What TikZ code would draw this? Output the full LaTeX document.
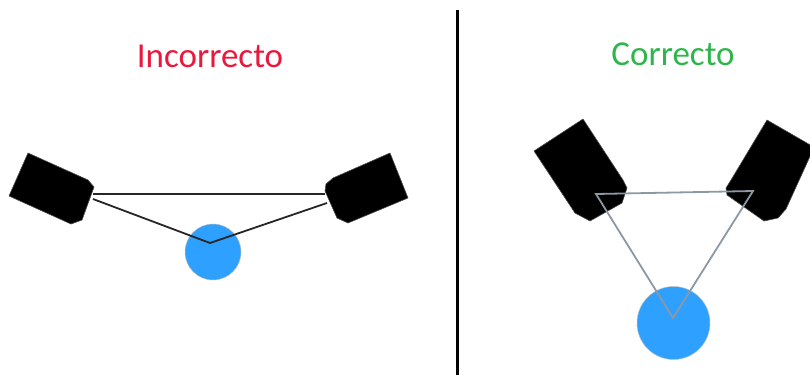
\documentclass[tikz,border=0pt]{standalone}
\usepackage{fontspec}
\setmainfont{Carlito}
\definecolor{wrongred}{RGB}{232,25,60}
\definecolor{rightgreen}{RGB}{46,181,75}
\definecolor{ballblue}{RGB}{46,160,255}
\definecolor{linegray}{RGB}{140,152,164}
\tikzset{
  cam/.style={fill=black, draw=black!70!white, line width=0.6pt, line join=round},
  ball/.style={circle, fill=ballblue, draw=black!25, line width=0.5pt, inner sep=0pt},
  ray/.style={draw=black!85, line width=1.8pt},
  grayray/.style={draw=linegray, line width=1.8pt, line join=miter},
  title/.style={font=\fontsize{35}{40}\selectfont, anchor=center}
}
\begin{document}
\begin{tikzpicture}[x=1pt,y=-1pt]
\useasboundingbox (0,0) rectangle (810,375);
\clip (0,0) rectangle (810,375);
% titles
\node[title, text=wrongred] (t1) at (210,56) {Incorrecto};
\node[title, text=rightgreen] (t2) at (673,54) {Correcto};
% divider
\coordinate (dtop) at (457.5,10);
\coordinate (dbot) at (457.5,375);
\draw[line width=3.5pt] (dtop) -- (dbot);
% left section
\draw[cam] (28,153) -- (88,180) -- (94,187) -- (82,220) -- (71,224) -- (9,196) -- cycle;
\draw[cam] (390,153) -- (408,198) -- (348,223) -- (337,218) -- (325,191) -- (326,184) -- (333,178) -- cycle;
\node[ball, minimum size=56pt] (b1) at (213,252) {};
\coordinate (l1) at (93,194);
\coordinate (r1) at (325,194);
\coordinate (l2) at (93,199);
\coordinate (r2) at (327,203);
\coordinate (c1) at (210,243);
\draw[ray] (l1) -- (r1);
\draw[ray, line join=miter] (l2) -- (c1) -- (r2);
% right section
\draw[cam] (583,119) -- (623,180) -- (627,188) -- (622,203) -- (590,221) -- (575,213) -- (534,151) -- cycle;
\draw[cam] (767,120) -- (812,146) -- (812,152) -- (786,209) -- (778,218) -- (764,221) -- (727,195) -- (726,188) -- (731,180) -- cycle;
\node[ball, minimum size=73pt] (b2) at (673.5,323) {};
\coordinate (p1) at (596,194);
\coordinate (p2) at (753,191);
\coordinate (p3) at (673,318);
\draw[grayray] (p1) -- (p2) -- (p3) -- cycle;
\end{tikzpicture}
\end{document}
